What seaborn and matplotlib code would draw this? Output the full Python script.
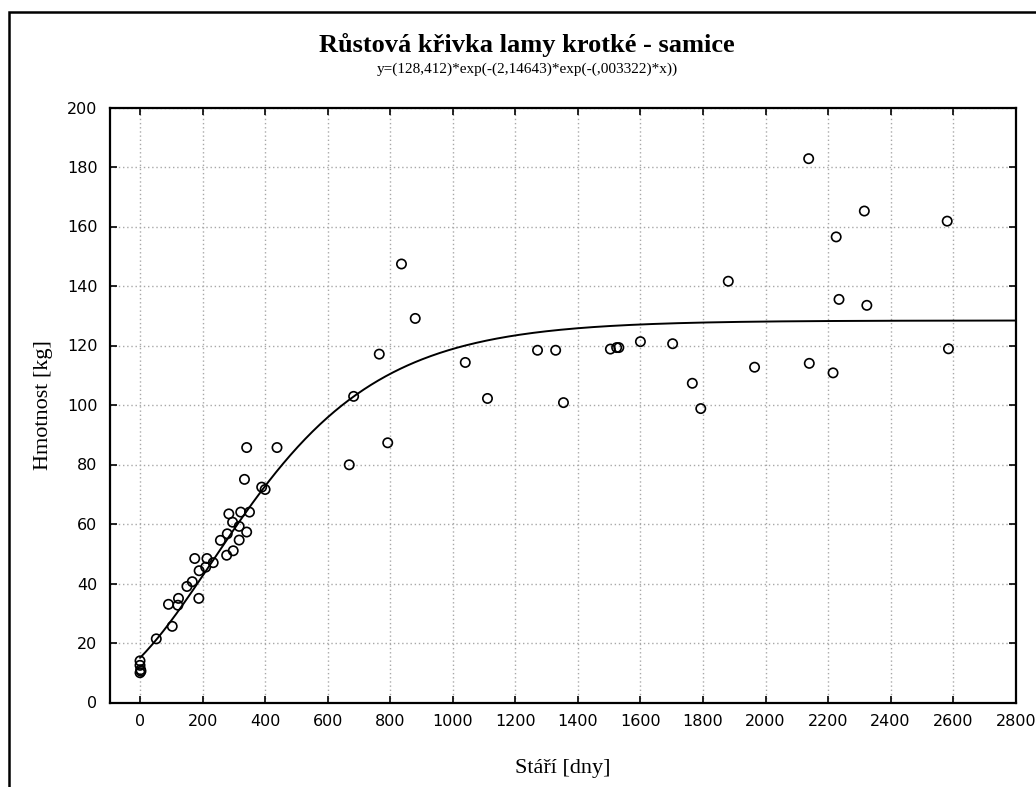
import numpy as np
import pandas as pd
import matplotlib
matplotlib.use("Agg")
import matplotlib.pyplot as plt
from matplotlib.patches import Rectangle
import seaborn as sns

# ---- data ----
age_days = [0, 0, 2, 0, 3,
            52, 103, 91, 121, 123, 150, 167, 188, 189, 210, 175, 214, 234,
            277, 298, 257, 279, 317, 341, 296, 317, 284, 322, 350, 334,
            341, 438, 389, 400,
            669, 683, 765, 792, 836, 880, 1040, 1111, 1271, 1329, 1354,
            1504, 1524, 1531, 1600, 1703, 1766, 1793, 1881, 1965,
            2138, 2140, 2216, 2226, 2235, 2316, 2324, 2581, 2585]
weight_kg = [14, 12.5, 11, 10, 10.5,
             21.4, 25.6, 33, 32.7, 35, 39, 40.6, 35, 44.3, 45.5, 48.4, 48.4, 47.0,
             49.5, 51, 54.5, 56.7, 54.6, 57.3, 60.6, 59.2, 63.4, 64, 64, 75,
             85.7, 85.7, 72.4, 71.6,
             79.9, 102.9, 117.1, 87.3, 147.4, 129.1, 114.3, 102.2, 118.4, 118.4, 100.8,
             118.8, 119.3, 119.3, 121.3, 120.6, 107.3, 98.8, 141.6, 112.7,
             182.8, 114.0, 110.8, 156.5, 135.5, 165.2, 133.5, 161.8, 118.9]

# fitted Gompertz parameters shown in the chart subtitle
fit_a = 128.412
fit_b = 2.14643
fit_c = 0.003322

x_ticks = list(range(0, 2801, 200))
y_ticks = list(range(0, 201, 20))

title = "Růstová křivka lamy krotké - samice"
subtitle = "y=(128,412)*exp(-(2,14643)*exp(-(,003322)*x))"
xlabel = "Stáří [dny]"
ylabel = "Hmotnost [kg]"

# ---- plotting ----
sns.set_theme(style="white")
plt.rcParams["font.family"] = ["DejaVu Sans"]
plt.rcParams["text.color"] = "black"
plt.rcParams["axes.labelcolor"] = "black"
plt.rcParams["xtick.color"] = "black"
plt.rcParams["ytick.color"] = "black"

fig = plt.figure(figsize=(10.36, 7.87), dpi=100)
ax = fig.add_axes([110 / 1036, 1 - 702.5 / 787, (1015.7 - 110) / 1036, (702.5 - 107.5) / 787])

df = pd.DataFrame({"x": age_days, "y": weight_kg})

curve_x = np.linspace(0, 2800, 600)
curve_y = fit_a * np.exp(-fit_b * np.exp(-fit_c * curve_x))
curve_df = pd.DataFrame({"x": curve_x, "y": curve_y})

sns.lineplot(data=curve_df, x="x", y="y", ax=ax, color="black", linewidth=1.4, zorder=3)
sns.scatterplot(data=df, x="x", y="y", ax=ax, marker="o", s=45,
                facecolor="none", edgecolor="black", linewidth=1.2, zorder=4)

ax.set_xlim(-96, 2800)
ax.set_ylim(0, 200)
ax.set_xticks(x_ticks)
ax.set_yticks(y_ticks)

ax.grid(True, linestyle=(0, (1, 2)), color="#a8a8a8", linewidth=1.0)
ax.set_axisbelow(True)

for sp in ax.spines.values():
    sp.set_color("black")
    sp.set_linewidth(1.6)

ax.tick_params(axis="both", which="both", direction="in", length=5, width=1.2,
               top=True, right=True, bottom=True, left=True, colors="black",
               labelsize=11.5)
ax.tick_params(axis="y", pad=9)
ax.tick_params(axis="x", pad=8)

ax.set_xlabel(xlabel, family="Liberation Serif", fontsize=16, labelpad=22, color="black")
ax.set_ylabel(ylabel, family="Liberation Serif", fontsize=16, labelpad=10, color="black")

fig.text(527 / 1036, 1 - 45 / 787, title, ha="center", va="center", color="black",
         family="Liberation Serif", fontweight="bold", fontsize=19)
fig.text(527 / 1036, 1 - 69 / 787, subtitle, ha="center", va="center", color="black",
         family="Liberation Serif", fontsize=11)

# outer frame (left and top edges visible)
fig.patches.append(Rectangle((9 / 1036, -0.2), 1.3, (1 - 12 / 787) + 0.2,
                             transform=fig.transFigure, fill=False,
                             edgecolor="black", linewidth=1.8, zorder=10))

fig.savefig("out.png", dpi=100)
